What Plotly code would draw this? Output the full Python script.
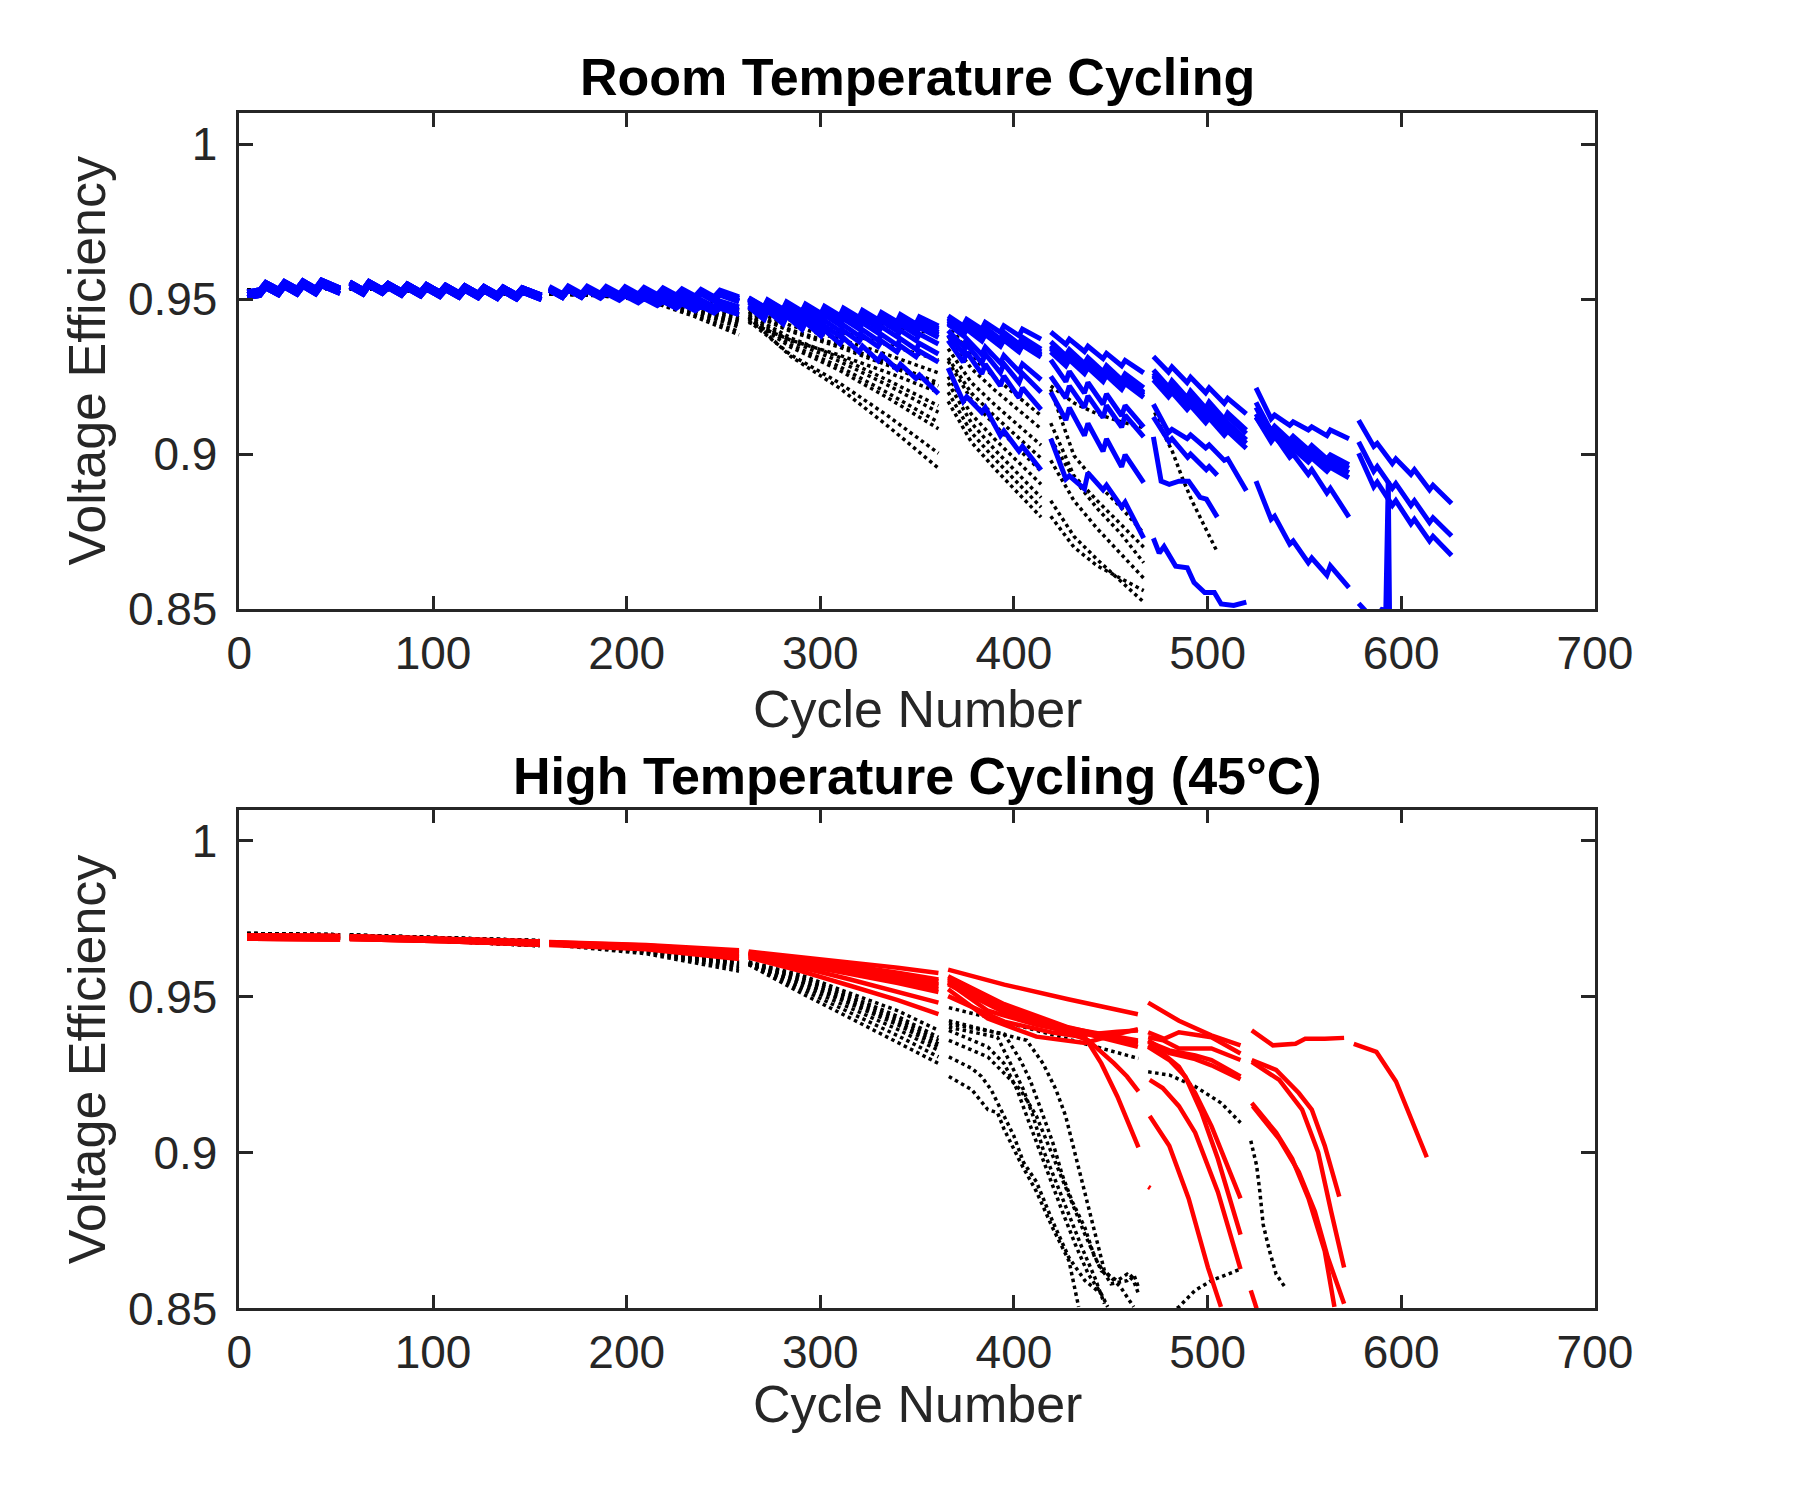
import plotly.graph_objects as go

# ---------------------------------------------------------------------------
# Values are voltage efficiency x 10^-4 (e.g. 9505 -> 0.9505)
# ---------------------------------------------------------------------------
VE_UNIT = 1e-4

x_ticks = [0, 100, 200, 300, 400, 500, 600, 700]
y_ticks = [0.85, 0.9, 0.95, 1.0]
y_tick_text = ["0.85", "0.9", "0.95", "1"]

# ---------------- Room temperature: cycle grid of the saw-tooth segments ----------------
rt_seg_cycles = [
    [4, 10.6, 13.6, 20.2, 23.2, 29.8, 32.8, 39.4, 42.4, 52],
    [57, 63.9, 66.9, 73.8, 76.8, 83.7, 86.7, 93.6, 96.6, 103.5, 106.5, 113.4, 116.4, 123.3, 126.3, 133.2, 136.2, 143.1, 146.1, 156],
    [160, 166.8, 169.8, 176.6, 179.6, 186.4, 189.4, 196.2, 199.2, 206.0, 209.0, 215.8, 218.8, 225.6, 228.6, 235.4, 238.4, 245.2, 248.2, 258],
    [263, 271.0, 272.8, 280.8, 282.6, 290.6, 292.4, 300.4, 302.2, 310.2, 312.0, 320.0, 321.8, 329.8, 331.6, 339.6, 341.4, 349.4, 351.2, 361],
    [366, 373.8, 375.6, 383.4, 385.2, 393.0, 394.8, 402.6, 404.4, 414],
    [419, 426.8, 428.6, 436.4, 438.2, 446.0, 447.8, 455.6, 457.4, 467],
    [472, 479.8, 481.6, 489.4, 491.2, 499.0, 500.8, 508.6, 510.4, 520],
    [525, 532.8, 534.6, 542.4, 544.2, 552.0, 553.8, 561.6, 563.4, 573],
    [578, 585.8, 587.6, 595.4, 597.2, 605.0, 606.8, 614.6, 616.4, 626],
]

rt_band_s1_a = [9515, 9522, 9546, 9524, 9549, 9526, 9551, 9527, 9553, 9528]
rt_band_s1_b = [9505, 9512, 9536, 9514, 9539, 9516, 9541, 9517, 9543, 9518]
rt_band_s1_c = [9523, 9530, 9554, 9532, 9557, 9534, 9559, 9535, 9561, 9536]
rt_band_s2_a = [9550, 9526, 9552, 9528, 9546, 9522, 9544, 9520, 9542, 9518, 9540, 9516, 9538, 9514, 9536, 9512, 9534, 9510, 9532, 9508]
rt_band_s2_b = [9540, 9516, 9542, 9518, 9536, 9512, 9534, 9510, 9532, 9508, 9530, 9506, 9528, 9504, 9526, 9502, 9524, 9500, 9522, 9498]
rt_band_s2_c = [9555, 9531, 9557, 9533, 9551, 9527, 9549, 9525, 9547, 9523, 9545, 9521, 9543, 9519, 9541, 9517, 9539, 9515, 9537, 9513]
rt_band_s3_a = [9536, 9513, 9537, 9514, 9537, 9514, 9536, 9513, 9535, 9512, 9533, 9510, 9531, 9508, 9528, 9505, 9526, 9503, 9524, 9502]
rt_band_s3_b = [9528, 9505, 9529, 9506, 9529, 9506, 9528, 9505, 9527, 9504, 9525, 9502, 9523, 9500, 9520, 9497, 9518, 9495, 9516, 9494]
rt_band_s3_c = [9541, 9518, 9542, 9519, 9542, 9519, 9541, 9518, 9540, 9517, 9538, 9515, 9536, 9513, 9533, 9510, 9531, 9508, 9529, 9507]

rt_blue_1 = [rt_band_s1_a, rt_band_s2_c, rt_band_s3_c,
             [9505, 9475, 9498, 9468, 9491, 9461, 9484, 9454, 9477, 9447, 9471, 9441, 9464, 9434, 9457, 9427, 9450, 9420, 9443, 9413],
             [9446, 9414, 9435, 9403, 9425, 9393, 9414, 9382, 9403, 9371],
             [9394, 9354, 9371, 9331, 9348, 9308, 9325, 9285, 9302, 9262],
             [9315, 9265, 9281, 9231, 9248, 9198, 9214, 9164, 9180, 9130],
             [9214, 9114, 9126, 9093, 9104, 9078, 9088, 9060, 9078, 9050],
             [9109, 9025, 9035, 8970, 8985, 8935, 8950, 8885, 8900, 8841]]
rt_blue_2 = [rt_band_s1_c, rt_band_s2_a, rt_band_s3_a,
             [9503, 9475, 9495, 9467, 9487, 9459, 9480, 9452, 9472, 9444, 9464, 9436, 9456, 9428, 9448, 9420, 9441, 9413, 9433, 9405],
             [9440, 9402, 9424, 9386, 9409, 9371, 9393, 9355, 9377, 9339],
             [9363, 9318, 9337, 9292, 9311, 9266, 9285, 9240, 9259, 9214],
             [9272, 9217, 9237, 9182, 9203, 9148, 9168, 9113, 9133, 9078],
             [9167, 9075, 9090, 9045, 9058, 9015, 9028, 8985, 8998, 8966],
             [9040, 8945, 8960, 8890, 8905, 8835, 8850, 8780, 8795, 8736]]
rt_blue_3 = [rt_band_s1_b, rt_band_s2_b, rt_band_s3_a,
             [9500, 9472, 9492, 9464, 9484, 9456, 9476, 9448, 9468, 9440, 9460, 9432, 9452, 9424, 9444, 9416, 9436, 9408, 9428, 9400],
             [9436, 9398, 9419, 9381, 9402, 9364, 9385, 9347, 9368, 9330],
             [9351, 9306, 9325, 9280, 9298, 9253, 9272, 9227, 9245, 9200],
             [9262, 9207, 9227, 9172, 9192, 9137, 9156, 9101, 9121, 9066],
             [9151, 9060, 9075, 9030, 9043, 9000, 9012, 8972, 8985, 8955],
             [9003, 8895, 8910, 8835, 8850, 8775, 8790, 8720, 8735, 8673]]
rt_blue_4 = [rt_band_s1_a, rt_band_s2_b,
             [9536, 9514, 9537, 9515, 9536, 9514, 9534, 9512, 9531, 9509, 9528, 9506, 9524, 9502, 9520, 9498, 9516, 9494, 9513, 9491],
             [9496, 9464, 9484, 9452, 9472, 9440, 9460, 9428, 9448, 9416, 9436, 9404, 9423, 9391, 9411, 9379, 9399, 9367, 9387, 9355],
             [9399, 9348, 9372, 9321, 9345, 9294, 9318, 9267, 9291, 9240],
             [9304, 9234, 9267, 9197, 9231, 9161, 9194, 9124, 9157, 9087],
             [9161, 9070, 9080, 9050, 9062, 9020, 9030, 8980, 8985, 8882],
             [8913, 8790, 8800, 8710, 8720, 8650, 8665, 8610, 8640, 8570],
             ([578, 580, 582, 585, 589, 590.5, 592, 593.3, 594.4],
              [8519, 8508, 8492, 8470, 8490, 8503, 8480, 8913, 8200])]
rt_blue_5 = [rt_band_s1_c, rt_band_s2_c, rt_band_s3_b,
             [9498, 9468, 9489, 9459, 9480, 9450, 9470, 9440, 9461, 9431, 9452, 9422, 9443, 9413, 9434, 9404, 9424, 9394, 9415, 9385],
             [9425, 9387, 9408, 9370, 9391, 9353, 9373, 9335, 9356, 9318],
             [9340, 9295, 9314, 9269, 9287, 9242, 9261, 9216, 9235, 9190],
             [9251, 9196, 9214, 9159, 9176, 9121, 9139, 9084, 9101, 9046],
             [9120, 9040, 9055, 9005, 9018, 8975, 8988, 8945, 8958, 8924]]
rt_blue_6 = [rt_band_s1_b, rt_band_s2_a, rt_band_s3_b,
             [9500, 9468, 9490, 9458, 9480, 9448, 9469, 9437, 9459, 9427, 9449, 9417, 9439, 9407, 9429, 9397, 9418, 9386, 9408, 9376],
             [9420, 9382, 9403, 9365, 9386, 9348, 9368, 9330, 9351, 9313],
             [9330, 9285, 9305, 9260, 9279, 9234, 9254, 9209, 9228, 9183],
             [9240, 9185, 9199, 9144, 9157, 9102, 9116, 9061, 9074, 9019],
             [9120, 9050, 9060, 8990, 9000, 8935, 8950, 8875, 8890, 8797]]
rt_blue_7 = [rt_band_s1_a, rt_band_s2_c, rt_band_s3_b,
             [9502, 9472, 9493, 9463, 9484, 9454, 9475, 9445, 9466, 9436, 9458, 9428, 9449, 9419, 9440, 9410, 9431, 9401, 9422, 9392],
             [9430, 9392, 9413, 9375, 9396, 9358, 9378, 9340, 9361, 9323],
             [9345, 9300, 9319, 9274, 9292, 9247, 9266, 9221, 9240, 9195],
             [9255, 9200, 9214, 9159, 9173, 9118, 9131, 9076, 9090, 9035],
             [9130, 9050, 9065, 9015, 9028, 8985, 8998, 8960, 8972, 8940]]
rt_blue_8 = [rt_band_s1_b, rt_band_s2_b,
             [9533, 9511, 9530, 9508, 9525, 9503, 9518, 9496, 9510, 9488, 9501, 9479, 9492, 9470, 9484, 9462, 9477, 9455, 9470, 9450],
             [9474, 9434, 9462, 9420, 9445, 9402, 9425, 9381, 9400, 9356, 9375, 9330, 9348, 9302, 9320, 9274, 9290, 9244, 9255, 9195],
             [9278, 9170, 9185, 9135, 9150, 9060, 9075, 9010, 9025, 8949],
             [9050, 8920, 8930, 8888, 8940, 8885, 8900, 8830, 8845, 8729],
             ([472, 475, 477.5, 483.5, 489.5, 493, 498.5, 503.5, 507, 513.5, 520],
              [8729, 8681, 8702, 8639, 8634, 8586, 8554, 8554, 8517, 8512, 8523])]
rt_blue_9 = [rt_band_s1_c, rt_band_s2_a,
             [9535, 9513, 9534, 9512, 9531, 9509, 9527, 9505, 9522, 9500, 9516, 9494, 9510, 9488, 9504, 9482, 9498, 9476, 9494, 9475],
             [9490, 9456, 9475, 9441, 9460, 9426, 9446, 9412, 9431, 9397, 9416, 9382, 9401, 9367, 9386, 9352, 9372, 9338, 9357, 9323],
             [9385, 9325, 9354, 9294, 9323, 9263, 9291, 9231, 9260, 9200],
             [9251, 9181, 9220, 9150, 9188, 9118, 9157, 9087, 9126, 9056],
             ([472, 480.1, 481.6, 489.7, 491.2, 499.3, 500.8, 505],
              [9120, 9040, 9050, 8990, 9000, 8950, 8960, 8932])]
rt_blue_10 = [rt_band_s1_a, rt_band_s2_c,
              [9534, 9512, 9532, 9510, 9528, 9506, 9523, 9501, 9517, 9495, 9510, 9488, 9503, 9481, 9496, 9474, 9489, 9467, 9483, 9463],
              [9480, 9445, 9464, 9429, 9447, 9412, 9431, 9396, 9414, 9379, 9398, 9363, 9382, 9347, 9365, 9330, 9349, 9314, 9332, 9297],
              [9367, 9297, 9329, 9259, 9290, 9220, 9252, 9182, 9214, 9144],
              [9200, 9110, 9150, 9060, 9099, 9009, 9049, 8959, 8998, 8908],
              ([472, 474.3, 476, 480.2, 485.2, 490.2, 496.1, 499.4, 505],
               [9056, 8977, 8913, 8903, 8913, 8913, 8861, 8855, 8797])]

rt_blue_series = [rt_blue_1, rt_blue_2, rt_blue_3, rt_blue_4, rt_blue_5,
                  rt_blue_6, rt_blue_7, rt_blue_8, rt_blue_9, rt_blue_10]

# ---------------- Room temperature: black dotted series ----------------
rt_k_cycles = [
    [4, 28, 52],
    [57, 106, 156],
    [160, 185, 210, 235, 258],
    [263, 285, 310, 335, 361],
    [366, 378, 390, 402, 414],
    [419, 431, 443, 455, 467],
]
rt_k_s1 = [9528, 9536, 9534]
rt_k_s2 = [9534, 9525, 9514]

rt_black_1 = [rt_k_s1, rt_k_s2, [9522, 9520, 9515, 9498, 9475], [9480, 9456, 9437, 9414, 9388],
              [9420, 9316, 9248, 9186, 9124], [9220, 9165, 9130, 9105, 9085],
              ([472.7, 476.8, 481.8, 486.9, 491.9, 496.9, 504.4], [9135, 9072, 9009, 8924, 8850, 8787, 8692])]
rt_black_2 = [rt_k_s1, rt_k_s2, [9521, 9519, 9513, 9493, 9468], [9475, 9431, 9395, 9352, 9304],
              [9380, 9276, 9207, 9145, 9082], [9209, 8995, 8905, 8830, 8745]]
rt_black_3 = [rt_k_s1, rt_k_s2, [9521, 9518, 9511, 9488, 9460], [9468, 9414, 9371, 9320, 9262],
              [9340, 9231, 9160, 9094, 9029], [9100, 8930, 8850, 8775, 8700]]
rt_black_4 = [rt_k_s1, rt_k_s2, [9520, 9517, 9509, 9483, 9452], [9460, 9400, 9352, 9294, 9230],
              [9310, 9197, 9123, 9055, 8987], [9050, 8920, 8825, 8745, 8650]]
rt_black_5 = [rt_k_s1, rt_k_s2, [9520, 9517, 9508, 9480, 9448], [9456, 9395, 9345, 9286, 9220],
              [9300, 9176, 9094, 9020, 8945], [8980, 8850, 8760, 8680, 8600]]
rt_black_6 = [rt_k_s1, rt_k_s2, [9519, 9516, 9507, 9476, 9440], [9450, 9374, 9312, 9238, 9156],
              [9250, 9129, 9049, 8976, 8903], [8850, 8735, 8660, 8590, 8523]]
rt_black_7 = [rt_k_s1, rt_k_s2, [9519, 9515, 9505, 9471, 9432], [9445, 9364, 9299, 9222, 9135],
              [9230, 9101, 9015, 8938, 8860], [8800, 8700, 8640, 8600, 8560]]
rt_black_8 = [rt_k_s1, rt_k_s2, [9518, 9514, 9504, 9467, 9425], [9440, 9352, 9282, 9197, 9103],
              [9200, 9070, 8985, 8907, 8829]]
rt_black_9 = [rt_k_s1, rt_k_s2, [9518, 9514, 9503, 9463, 9418], [9436, 9344, 9270, 9181, 9082],
              [9170, 9039, 8954, 8875, 8797]]
rt_black_10 = [rt_k_s1, rt_k_s2, [9517, 9513, 9502, 9458, 9410], [9430, 9319, 9229, 9123, 9003]]
rt_black_11 = [rt_k_s1, rt_k_s2, [9517, 9512, 9499, 9450, 9395], [9441, 9314, 9213, 9090, 8955]]
rt_black_12 = [rt_k_s1, rt_k_s2, [9516, 9511, 9497, 9444, 9385], [9425, 9367, 9319, 9263, 9200]]

rt_black_series = [rt_black_1, rt_black_2, rt_black_3, rt_black_4, rt_black_5, rt_black_6,
                   rt_black_7, rt_black_8, rt_black_9, rt_black_10, rt_black_11, rt_black_12]

# ---------------- High temperature (45 C) ----------------
ht_cycles = [
    [4, 28, 52],
    [57, 106, 155],
    [160, 210, 258],
    [263, 290, 315, 340, 361],
]
ht_red_s1_a = [9692, 9691, 9690]
ht_red_s1_b = [9686, 9685, 9684]
ht_red_s1_c = [9697, 9696, 9695]
ht_red_s2_a = [9690, 9683, 9673]
ht_red_s2_b = [9685, 9678, 9667]
ht_red_s2_c = [9694, 9687, 9677]

ht_red_1 = [ht_red_s1_a, ht_red_s2_c, [9676, 9666, 9649], [9645, 9628, 9611, 9593, 9576],
            ([366, 395, 428, 464], [9587, 9539, 9492, 9444]),
            ([469.3, 485.2, 501.9, 517], [9481, 9423, 9376, 9344]),
            ([522.8, 533.7, 545.4, 550.4, 560.5, 570.5], [9392, 9344, 9349, 9365, 9365, 9368]),
            ([575.5, 587.2, 597.3, 607.3, 613.2], [9349, 9323, 9228, 9075, 8985])]
ht_red_2 = [ht_red_s1_c, ht_red_s2_a, [9674, 9663, 9643], [9641, 9619, 9596, 9573, 9550],
            ([366, 395, 428, 464], [9566, 9476, 9402, 9349]),
            ([469.3, 477.6, 485.2, 494, 502, 517], [9386, 9365, 9386, 9376, 9370, 9318]),
            ([522.8, 535.4, 547.1, 553.8, 560.5, 568], [9297, 9265, 9191, 9138, 9022, 8859])]
ht_red_3 = [ht_red_s1_b, ht_red_s2_b, [9672, 9661, 9638], [9638, 9613, 9587, 9560, 9535],
            ([366, 395, 428, 464], [9555, 9465, 9395, 9339]),
            ([469.3, 477, 485.2, 494, 502, 517], [9370, 9360, 9334, 9334, 9334, 9297]),
            ([522.8, 537, 548.8, 557.1, 563.8, 570.5], [9291, 9233, 9138, 9001, 8811, 8631])]
ht_red_4 = [ht_red_s1_a, ht_red_s2_b, [9670, 9657, 9630], [9633, 9604, 9574, 9544, 9515],
            ([366, 386.5, 411.6, 436.7, 453.4, 464], [9545, 9455, 9410, 9378, 9388, 9392]),
            ([469.3, 480.2, 493.6, 502, 517], [9355, 9328, 9312, 9297, 9244]),
            ([522.8, 535.4, 543.7, 552.1, 560.5, 565.5], [9159, 9064, 8980, 8853, 8684, 8505])]
ht_red_5 = [ht_red_s1_c, ht_red_s2_c, [9668, 9655, 9626], [9630, 9594, 9556, 9517, 9481],
            ([366, 386.5, 411.6, 436.7, 453.4, 464], [9524, 9430, 9372, 9352, 9380, 9396]),
            ([469.3, 480, 493.6, 502, 517], [9360, 9320, 9300, 9280, 9235]),
            ([523.3, 537, 547.1, 555.4, 562.1, 570.5], [9149, 9043, 8938, 8811, 8663, 8515])]
ht_red_6 = [ht_red_s1_b, ht_red_s2_a, [9675, 9664, 9645], [9643, 9622, 9600, 9577, 9555],
            ([366, 395, 428, 464], [9560, 9470, 9400, 9360]),
            ([469.3, 476.8, 485.2, 493.6, 502, 510.3, 517], [9344, 9318, 9275, 9191, 9085, 8959, 8853])]
ht_red_7 = [ht_red_s1_a, ht_red_s2_c, [9673, 9662, 9640], [9640, 9616, 9590, 9564, 9540],
            ([366, 395, 428, 464], [9550, 9460, 9392, 9355]),
            ([469.3, 480.2, 488.5, 496.9, 505.3, 517], [9339, 9297, 9244, 9128, 8980, 8737])]
ht_red_8 = [ht_red_s1_c, ht_red_s2_b, [9671, 9659, 9635], [9636, 9609, 9581, 9552, 9525],
            ([366, 395, 428, 438.4, 451.7, 458.4, 464.3], [9540, 9450, 9385, 9360, 9286, 9244, 9196]),
            ([470.1, 476.8, 485.2, 493.6, 505.3, 517], [9233, 9207, 9149, 9064, 8874, 8626]),
            ([522.3, 525.3], [8558, 8500])]
ht_red_9 = [ht_red_s1_b, ht_red_s2_a, [9666, 9652, 9621], [9626, 9582, 9536, 9489, 9444],
            ([366, 395, 420, 436.7, 445.1, 453.4, 464.3], [9502, 9420, 9385, 9370, 9286, 9180, 9017]),
            ([469.4, 470.4], [8890, 8886]),
            ([470.1, 480.2, 490.2, 500.2, 506.9], [9117, 9022, 8853, 8631, 8505])]

ht_red_series = [ht_red_1, ht_red_2, ht_red_3, ht_red_4, ht_red_5,
                 ht_red_6, ht_red_7, ht_red_8, ht_red_9]

ht_blk_s1_a = [9703, 9701, 9699]
ht_blk_s1_b = [9690, 9689, 9688]
ht_blk_s2_a = [9698, 9690, 9680]
ht_blk_s2_b = [9686, 9678, 9664]

ht_black_1 = [ht_blk_s1_a, ht_blk_s2_a, [9676, 9655, 9613], [9612, 9570, 9512, 9455, 9392],
              ([366.4, 386.5, 411.6, 436.7, 464.3], [9465, 9434, 9392, 9349, 9302]),
              ([469.3, 480.2, 493.6, 507, 517], [9259, 9249, 9212, 9159, 9096]),
              ([522.3, 525.3, 527, 528.7, 532, 535.4, 540], [9038, 8959, 8874, 8769, 8684, 8610, 8568])]
ht_black_2 = [ht_blk_s1_a, ht_blk_s2_a, [9675, 9653, 9610], [9610, 9563, 9502, 9437, 9370],
              ([366.4, 406.6, 415, 421.7, 426.7, 430.1, 433.4, 436.7, 440.1, 443.4, 446.7, 455.1, 461.8],
               [9423, 9360, 9286, 9202, 9117, 9033, 8948, 8864, 8779, 8695, 8621, 8568, 8505])]
ht_black_3 = [ht_blk_s1_b, ht_blk_s2_b, [9674, 9651, 9607], [9608, 9558, 9495, 9428, 9360],
              ([366.4, 394.9, 403.3, 408.3, 413.3, 420, 425, 430.1, 436.7, 441.7, 450.1, 458.4, 461.8, 464.3],
               [9413, 9381, 9297, 9233, 9149, 9033, 8927, 8843, 8758, 8663, 8579, 8589, 8610, 8568])]
ht_black_4 = [ht_blk_s1_a, ht_blk_s2_b, [9673, 9649, 9604], [9607, 9550, 9485, 9418, 9349],
              ([366.4, 391.5, 398.2, 404.9, 409.9, 415, 421.7, 428.4, 435.1, 441.7, 446.7],
               [9402, 9370, 9286, 9202, 9117, 9011, 8906, 8800, 8695, 8600, 8515])]
ht_black_5 = [ht_blk_s1_b, ht_blk_s2_a, [9671, 9645, 9595], [9605, 9535, 9465, 9395, 9328],
              ([366.4, 378.2, 386.5, 394.9, 401.6, 406.6, 411.6, 418.3, 425, 431.7, 438.4, 445.1, 448.4],
               [9392, 9360, 9339, 9286, 9202, 9117, 9033, 8927, 8811, 8705, 8610, 8547, 8505])]
ht_black_6 = [ht_blk_s1_b, ht_blk_s2_b, [9670, 9642, 9590], [9604, 9525, 9450, 9375, 9307],
              ([366.4, 378.2, 383.2, 388.2, 394.9, 399.9, 404.9, 411.6, 420, 428.4, 436.7, 445.1],
               [9307, 9270, 9244, 9202, 9117, 9054, 8969, 8906, 8779, 8663, 8589, 8547])]
ht_black_7 = [ht_blk_s1_a, ht_blk_s2_b, [9668, 9638, 9582], [9603, 9512, 9433, 9353, 9286],
              ([366.4, 378.2, 386.5, 391.5, 394.9, 403.3, 411.6, 420, 428.4, 433.4],
               [9244, 9202, 9138, 9128, 9075, 8969, 8875, 8758, 8653, 8505])]
ht_black_8 = [ht_blk_s1_b, ht_blk_s2_a, [9672, 9647, 9600], [9606, 9545, 9478, 9410, 9340],
              ([366.4, 386.5, 403.3, 411.6, 420, 428.4, 436.7, 445.1, 453.4, 458.4, 461.8, 464.3],
               [9360, 9307, 9202, 9117, 8990, 8864, 8737, 8621, 8589, 8610, 8589, 8547]),
              ([469, 485.2, 493.6, 501.9, 517], [8440, 8505, 8558, 8589, 8626])]

ht_black_series = [ht_black_1, ht_black_2, ht_black_3, ht_black_4,
                   ht_black_5, ht_black_6, ht_black_7, ht_black_8]


def assemble(segments, grid):
    """Join the segments of one series, leaving a gap (None) between them."""
    xs, ys = [], []
    for i, seg in enumerate(segments):
        if isinstance(seg, tuple):
            cyc, vals = seg
        else:
            cyc, vals = grid[i], seg
        for c, v in zip(cyc, vals):
            xs.append(c)
            ys.append(v * VE_UNIT)
        xs.append(None)
        ys.append(None)
    return xs, ys


fig = go.Figure()

BLACK_DOT = dict(color="#000000", width=3.5, dash="3.5px,3.5px")

for s in rt_black_series:
    x, y = assemble(s, rt_k_cycles)
    fig.add_trace(go.Scatter(x=x, y=y, mode="lines", line=BLACK_DOT,
                             xaxis="x", yaxis="y", hoverinfo="skip"))
for s in rt_blue_series:
    x, y = assemble(s, rt_seg_cycles)
    fig.add_trace(go.Scatter(x=x, y=y, mode="lines", line=dict(color="#0000FF", width=5),
                             xaxis="x", yaxis="y", hoverinfo="skip"))
for s in ht_black_series:
    x, y = assemble(s, ht_cycles)
    fig.add_trace(go.Scatter(x=x, y=y, mode="lines", line=BLACK_DOT,
                             xaxis="x2", yaxis="y2", hoverinfo="skip"))
for s in ht_red_series:
    x, y = assemble(s, ht_cycles)
    fig.add_trace(go.Scatter(x=x, y=y, mode="lines", line=dict(color="#FF0000", width=4.5),
                             xaxis="x2", yaxis="y2", hoverinfo="skip"))

FONT = "Liberation Sans, Arial, Helvetica, sans-serif"
AX_COL = "#262626"

axis_common = dict(showline=True, linecolor=AX_COL, linewidth=2.5, mirror="ticks",
                   ticks="inside", ticklen=14, tickwidth=2.5, tickcolor=AX_COL,
                   showgrid=False, zeroline=False,
                   tickfont=dict(family=FONT, size=46, color=AX_COL))

x_dom = [233 / 1800, 1628 / 1800]
fig.update_layout(
    width=1800, height=1500,
    margin=dict(l=0, r=0, t=0, b=0),
    paper_bgcolor="white", plot_bgcolor="white",
    showlegend=False,
    xaxis=dict(domain=x_dom, range=[0, 700], tickvals=x_ticks, anchor="y",
               ticklabelstandoff=2, **axis_common),
    yaxis=dict(domain=[1 - 620 / 1500, 1 - 115 / 1500], range=[0.85, 1.01],
               tickvals=y_ticks, ticktext=y_tick_text, anchor="x",
               ticklabelstandoff=10, **axis_common),
    xaxis2=dict(domain=x_dom, range=[0, 700], tickvals=x_ticks, anchor="y2",
                ticklabelstandoff=2, **axis_common),
    yaxis2=dict(domain=[1 - 1331.5 / 1500, 1 - 824 / 1500], range=[0.85, 1.01],
                tickvals=y_ticks, ticktext=y_tick_text, anchor="x2",
                ticklabelstandoff=10, **axis_common),
)

label_font = dict(family=FONT, size=52, color=AX_COL)
title_font = dict(family=FONT, size=52, color="#000000")
cx = (x_dom[0] + x_dom[1]) / 2
annotations = [
    dict(text="<b>Room Temperature Cycling</b>", x=cx, y=1 - 78 / 1500, font=title_font),
    dict(text="<b>High Temperature Cycling (45°C)</b>", x=cx, y=1 - 790 / 1500, font=title_font),
    dict(text="Cycle Number", x=cx, y=1 - 721 / 1500, font=label_font),
    dict(text="Cycle Number", x=cx, y=1 - 1429 / 1500, font=label_font),
    dict(text="Voltage Efficiency", x=76 / 1800, y=1 - 367 / 1500, font=label_font, textangle=-90),
    dict(text="Voltage Efficiency", x=76 / 1800, y=1 - 1078 / 1500, font=label_font, textangle=-90),
]
for a in annotations:
    fig.add_annotation(xref="paper", yref="paper", xanchor="center", yanchor="middle",
                       showarrow=False, **a)

fig.write_html("out.html", config={"displayModeBar": False},
               post_script="document.body.style.margin='0';document.body.style.overflow='hidden';")
